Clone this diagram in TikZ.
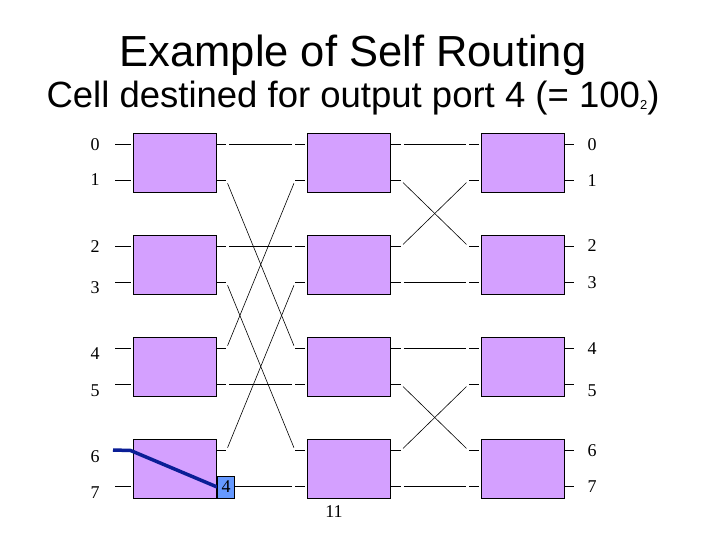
\documentclass[tikz,border=0pt]{standalone}
\usepackage{fontspec}
\setmainfont{Liberation Serif}
\setsansfont{Liberation Sans}
\usetikzlibrary{calc}
\definecolor{switchfill}{RGB}{212,160,255}
\definecolor{cellfill}{RGB}{102,153,255}
\definecolor{routeblue}{RGB}{10,30,150}

\begin{document}
\begin{tikzpicture}[x=1pt, y=-1pt, line cap=butt,
	switch/.style={draw, line width=0.8pt, fill=switchfill, minimum width=83pt, minimum height=59pt, inner sep=0pt},
	stub/.style={line width=0.6pt},
	link/.style={line width=0.6pt, shorten <=3pt, shorten >=3pt},
	port/.style={font=\fontsize{18}{18}\selectfont, inner sep=0pt},
	cell/.style={draw, line width=0.8pt, fill=cellfill, minimum width=17pt, minimum height=22pt, inner sep=0pt, font=\fontsize{18}{18}\selectfont},
	route/.style={draw=routeblue, line width=3.5pt, line join=round}]
		
		%Frame
		\fill[white] (0,0) rectangle (720,540);
		\useasboundingbox (0,0) rectangle (720,540);
		
		%Titles
		\node[anchor=base, font=\sffamily\fontsize{43.5}{43.5}\selectfont] (title) at (353,67) {Example of Self Routing};
		\node[anchor=base, font=\sffamily\fontsize{36.5}{36.5}\selectfont] (subtitle) at (353,108) {Cell destined for output port 4 (= 100\raisebox{-2pt}{\fontsize{13}{13}\selectfont 2})};
		
		%Switches and their stubs
		\foreach \c/\x/\l in {1/174.5/16,2/349/10,3/522.5/10}
		{
			\foreach \r/\y in {0/162.5,1/264.5,2/366.5,3/468.5}
			{
				\node[switch] (b\c\r) at (\x,\y) {};
				\draw[stub] ($(b\c\r.west)+(-2,-18)$) -- ++(-\l,0) coordinate (b\c\r-i0);
				\draw[stub] ($(b\c\r.west)+(-2,18)$) -- ++(-\l,0) coordinate (b\c\r-i1);
				\draw[stub] ($(b\c\r.east)+(0,-18)$) -- ++(10,0) coordinate (b\c\r-o0);
				\draw[stub] ($(b\c\r.east)+(0,18)$) -- ++(10,0) coordinate (b\c\r-o1);
			}
		}
		
		%Links
		\foreach \a/\b in {b10-o0/b20-i0, b10-o1/b22-i0, b11-o0/b21-i0, b11-o1/b23-i0,
			b12-o0/b20-i1, b12-o1/b22-i1, b13-o0/b21-i1, b13-o1/b23-i1,
			b20-o0/b30-i0, b20-o1/b31-i0, b21-o0/b30-i1, b21-o1/b31-i1,
			b22-o0/b32-i0, b22-o1/b33-i0, b23-o0/b32-i1, b23-o1/b33-i1}
		{
			\draw[link] (\a) -- (\b);
		}
		
		%Port numbers
		\foreach \p/\y in {0/145,1/180,2/247,3/288,4/354,5/391,6/457,7/493}
		{
			\node[port] (in\p) at (95,\y) {\p};
		}
		\foreach \p/\y in {0/145,1/181,2/246,3/283,4/349,5/391,6/451,7/487}
		{
			\node[port] (out\p) at (592,\y) {\p};
		}
		
		%Route of the cell
		\coordinate (src) at (113,450);
		\node[cell] (cell) at (226,487) {};
		\draw[route] (src) -- ($(b13.west)+(-2,-18)$) -- (cell.west);
		\node[cell] at (cell) {4};
		
		%Stage label
		\node[port] (stage) at (334,512) {11};
		
\end{tikzpicture}
\end{document}
